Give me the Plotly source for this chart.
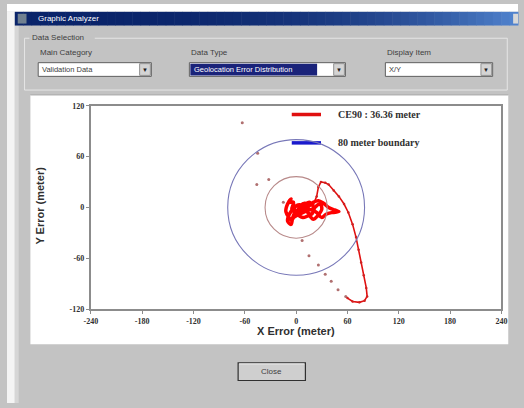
import plotly.graph_objects as go

# ---- data (meters) ----
cluster_x = [0, -4, -6, -10, -8, -2, 4, 10, 6, -3, -5, -12, -10, -6, -9, -3, -5, 0, 5, 10, 15, 12, 18, 22,
             28, 30, 25, 20, 15, 8, 2, 6, 14, 20, 26, 32, 38, 45, 50, 42, 35, 30, 24, 18, 10, 4, -2, 3,
             12, 20, 16, 8]
cluster_y = [-2, -12, -20, -16, -8, 0, 3, -1, -6, -12, -15, -5, 4, 10, 6, 6, -2, -6, 2, 5, 3, -4, -8, 0,
             4, -2, -10, -14, -10, -12, -8, -2, 1, 6, 8, 5, 0, -3, -5, -6, -8, -12, -6, -3, -1, 3, 0, -8,
             -4, -1, 6, 2]

track_x = [8, 16, 20, 24, 26, 29, 34, 38, 44, 50, 56, 61, 66, 70, 73, 76, 79, 82, 83, 80, 74, 66, 60]
track_y = [2, 4, 3, 13, 24, 30, 29, 27, 20, 13, 4, -6, -20, -35, -50, -65, -80, -95, -105, -110, -112, -111, -107]

return_x = [58, 49, 41, 34, 26, 15, 7]
return_y = [-105, -97, -87, -79, -68, -57, -39]

stray_x = [-63, -45, -46, -32, -15]
stray_y = [100, 64, 27, 33, 6]

ce_radius = 36.36
boundary_radius = 80

x_ticks = [-240, -180, -120, -60, 0, 60, 120, 180, 240]
y_ticks = [-120, -60, 0, 60, 120]

W, H = 524, 408


def px(x):
    return x / W


def py(y):
    return 1 - y / H


GRAY = "#c3c3c3"
fig = go.Figure()

# track points
fig.add_trace(go.Scatter(x=return_x, y=return_y, mode="markers",
                         marker=dict(size=3, color="#b07070"), showlegend=False))
fig.add_trace(go.Scatter(x=stray_x, y=stray_y, mode="markers",
                         marker=dict(size=3, color="#b07070"), showlegend=False))
fig.add_trace(go.Scatter(x=track_x, y=track_y, mode="lines+markers",
                         line=dict(color="#e01010", width=1.6),
                         marker=dict(size=2.5, color="#d02020"), showlegend=False))
fig.add_trace(go.Scatter(x=cluster_x, y=cluster_y, mode="lines",
                         line=dict(color="#ff0000", width=3.5, shape="spline"), showlegend=False))

shapes = []


def rect(x0, y0, x1, y1, fill=None, line=None, lw=1, layer="below"):
    shapes.append(dict(type="rect", xref="paper", yref="paper",
                       x0=px(x0), x1=px(x1), y0=py(y1), y1=py(y0),
                       fillcolor=fill if fill else "rgba(0,0,0,0)",
                       line=dict(color=line if line else "rgba(0,0,0,0)", width=lw if line else 0),
                       layer=layer))


def hline(x0, x1, y, color, w=1, layer="below"):
    shapes.append(dict(type="line", xref="paper", yref="paper",
                       x0=px(x0), x1=px(x1), y0=py(y), y1=py(y),
                       line=dict(color=color, width=w), layer=layer))


# window frame
rect(0, 0, 524, 8, fill="#ffffff")
rect(0, 8, 8, 408, fill="#f4f4f4")
rect(8, 22, 12, 408, fill="#d6d6d6")

# title bar gradient
n = 60
c0 = (10, 36, 106)
c1 = (80, 130, 205)
for i in range(n):
    t = (i / (n - 1)) ** 3
    c = tuple(int(c0[k] + (c1[k] - c0[k]) * t) for k in range(3))
    rect(8 + i * (516 / n), 8, 8 + (i + 1) * (516 / n) + 0.5, 22, fill="rgb(%d,%d,%d)" % c)
rect(11, 10, 20, 20, fill="#708090")
rect(519, 10, 524, 20, fill="#d8d8d8")

# group box
rect(18, 35, 513, 88, line="#e6e6e6", lw=1)
rect(23, 29, 90, 38, fill=GRAY)

# combo boxes
combo_spans = [(32, 148), (187, 347), (388, 498)]
for x0, x1 in combo_spans:
    rect(x0, 60, x1, 74, fill="#ffffff", line="#606060", lw=1)
    rect(x1 - 12, 61, x1 - 1, 73, fill="#d4d4d4", line="#909090", lw=1)
rect(188, 61, 318, 73, fill="#1a237a")

# white chart panel
rect(24, 93, 514, 348, fill="#ffffff")
hline(24, 514, 93, "#a8a8a8", 1)

# close button
rect(237, 367, 306, 385, fill="#cfcfcf", line="#303030", lw=1.2)
hline(238, 305, 368, "#f0f0f0", 1)

# legend samples
hline(292, 322, 113, "#e01010", 3.5, layer="above")
hline(292, 322, 142, "#1a1acc", 3.5, layer="above")

# circles in data space
shapes.append(dict(type="circle", xref="x", yref="y",
                   x0=-boundary_radius, x1=boundary_radius, y0=-boundary_radius, y1=boundary_radius,
                   line=dict(color="#7878b8", width=1.1), layer="above"))
shapes.append(dict(type="circle", xref="x", yref="y",
                   x0=-ce_radius, x1=ce_radius, y0=-ce_radius, y1=ce_radius,
                   line=dict(color="#b88a8a", width=1.1), layer="above"))

annotations = []


def text(x, y, s, size=8, color="#303030", family="Liberation Sans", xanchor="left", bold=False):
    annotations.append(dict(x=px(x), y=py(y), xref="paper", yref="paper", text=("<b>%s</b>" % s) if bold else s,
                            showarrow=False, xanchor=xanchor, yanchor="middle",
                            font=dict(size=size, color=color, family=family)))


text(30, 15, "Graphic Analyzer", 8, "#ffffff")
text(24, 34, "Data Selection", 8, "#404040")
text(32, 50, "Main Category", 8, "#404040")
text(187, 50, "Data Type", 8, "#404040")
text(388, 50, "Display Item", 8, "#404040")
text(34, 67, "Validation Data", 7.5, "#404040")
text(190, 67, "Geolocation Error Distribution", 7.5, "#ffffff")
text(390, 67, "X/Y", 7.5, "#404040")
for x0, x1 in combo_spans:
    text(x1 - 6.5, 67.5, "▼", 6, "#202020", xanchor="center")
text(271, 376, "Close", 8, "#404040", xanchor="center")

text(337, 113, "CE90 : 36.36 meter", 10, "#303030", "Liberation Serif", bold=True)
text(337, 142, "80 meter boundary", 10, "#303030", "Liberation Serif", bold=True)

text(296, 334, "X Error (meter)", 11, "#303030", bold=True, xanchor="center")
annotations.append(dict(x=px(34), y=py(206), xref="paper", yref="paper", text="<b>Y Error (meter)</b>",
                        showarrow=False, textangle=-90, xanchor="center", yanchor="middle",
                        font=dict(size=11, color="#303030", family="Liberation Sans")))

axis_common = dict(showgrid=False, zeroline=False, showline=True, linecolor="#8c8c8c", linewidth=2,
                   mirror=True, ticks="outside", ticklen=3, tickcolor="#8c8c8c",
                   tickfont=dict(size=8, color="#303030", family="Liberation Serif"))

fig.update_layout(
    width=W, height=H, margin=dict(l=0, r=0, t=0, b=0),
    paper_bgcolor=GRAY, plot_bgcolor="#ffffff",
    xaxis=dict(range=[-240, 240], domain=[px(86), px(507)], tickvals=x_ticks,
               ticktext=["<b>%d</b>" % v for v in x_ticks], **axis_common),
    yaxis=dict(range=[-120, 120], domain=[py(312), py(104)], tickvals=y_ticks,
               ticktext=["<b>%d</b>" % v for v in y_ticks], **axis_common),
    shapes=shapes, annotations=annotations, showlegend=False,
)

fig.write_html("out.html")
